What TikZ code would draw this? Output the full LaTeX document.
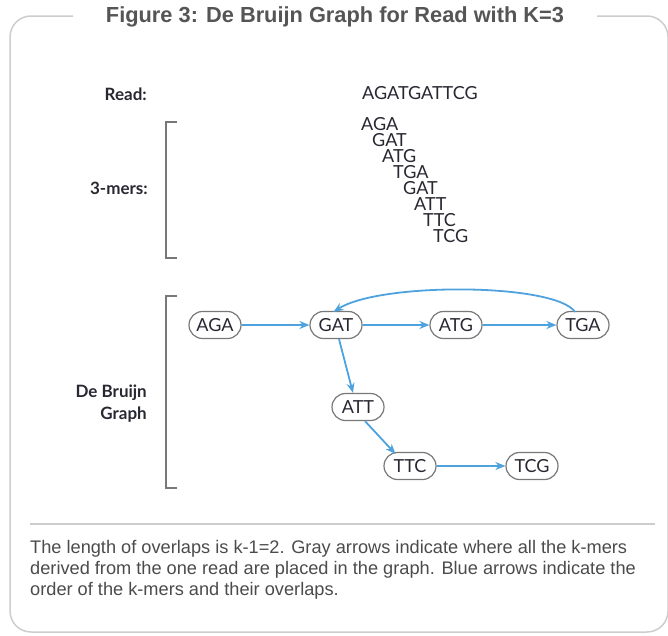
\documentclass[tikz,border=0pt]{standalone}
\usepackage{fontspec}
\setmainfont{Liberation Sans}
\newfontfamily\labelfont{Lato}
\usetikzlibrary{arrows.meta,shapes.misc}
\definecolor{framegray}{RGB}{205,205,205}
\definecolor{titlegray}{RGB}{85,85,85}
\definecolor{textgray}{RGB}{75,75,75}
\definecolor{bracketgray}{RGB}{120,120,120}
\definecolor{seqdark}{RGB}{40,40,50}
\definecolor{arrowblue}{RGB}{78,162,222}
\begin{document}
\begin{tikzpicture}[x=1pt,y=-1pt,
  rowlabel/.style={font=\labelfont\bfseries\fontsize{17}{22}\selectfont, text=seqdark, anchor=east, align=right, inner sep=0pt},
  seq/.style={font=\labelfont\fontsize{18}{19}\selectfont, text=seqdark, anchor=base west, inner sep=0pt, text height=12pt, text depth=0pt},
  kmer/.style={rounded rectangle, draw=bracketgray, line width=1.2pt, minimum width=56pt, minimum height=27pt, inner sep=2pt,
    font=\labelfont\fontsize{18}{19}\selectfont, text=seqdark},
  bracketline/.style={draw=bracketgray, line width=2pt},
  link/.style={draw=arrowblue, line width=1.8pt, -{Stealth[length=10pt,width=8pt]}}
]
\useasboundingbox (0,0) rectangle (668,635);

% outer frame with a gap for the heading
\draw[framegray, line width=1.5pt, rounded corners=21pt]
  (73,16) -- (10,16) -- (10,632) -- (668,632) -- (668,16) -- (597,16);
\node[font=\bfseries\fontsize{21.8}{23}\selectfont, text=titlegray] (title) at (335,17) {Figure 3: De Bruijn Graph for Read with K=3};

% row labels
\node[rowlabel] (readlab) at (147,94) {Read:};
\node[rowlabel] (merlab) at (148,188) {3-mers:};
\node[rowlabel] (graphlab) at (147,404) {De Bruijn\\Graph};

% brackets
\draw[bracketline] (177,122) -| (166,258) -- (177,258);
\draw[bracketline] (177,296) -| (166,488) -- (177,488);

% the read and its 3-mers (base lines)
\node[seq] (read) at (362,99) {AGATGATTCG};
\node[seq] (m1) at (361,130) {AGA};
\node[seq] (m2) at (372,146) {GAT};
\node[seq] (m3) at (382,162) {ATG};
\node[seq] (m4) at (393,178) {TGA};
\node[seq] (m5) at (403,194) {GAT};
\node[seq] (m6) at (414,210) {ATT};
\node[seq] (m7) at (423,226) {TTC};
\node[seq] (m8) at (433,242) {TCG};

% graph nodes
\node[kmer] (aga) at (215,325) {AGA};
\node[kmer] (gat) at (336,325) {GAT};
\node[kmer] (atg) at (456,325) {ATG};
\node[kmer] (tga) at (583,325) {TGA};
\node[kmer] (att) at (358,407) {ATT};
\node[kmer] (ttc) at (410,466) {TTC};
\node[kmer] (tcg) at (532,466) {TCG};

% overlaps
\draw[link] (aga) -- (gat);
\draw[link] (gat) -- (atg);
\draw[link] (atg) -- (tga);
\draw[link] (ttc) -- (tcg);
\draw[link] ([xshift=3pt]gat.south) -- ([xshift=-5pt]att.north);
\draw[link] ([xshift=7pt]att.south) -- ([xshift=-2pt,yshift=-2pt]ttc.north west);
\draw[link] ([xshift=-8pt,yshift=-1pt]tga.north) .. controls (555,283) and (380,282) .. ([xshift=10pt,yshift=-1pt]gat.north west);

% caption
\draw[framegray, line width=1.3pt] (30,524) -- (655,524);
\node[anchor=north west, align=left, inner sep=0pt, text=textgray, font=\fontsize{18.2}{21}\selectfont] (caption) at (30,540)
  {The length of overlaps is k-1=2. Gray arrows indicate where all the k-mers\\
   derived from the one read are placed in the graph. Blue arrows indicate the\\
   order of the k-mers and their overlaps.};
\end{tikzpicture}
\end{document}
